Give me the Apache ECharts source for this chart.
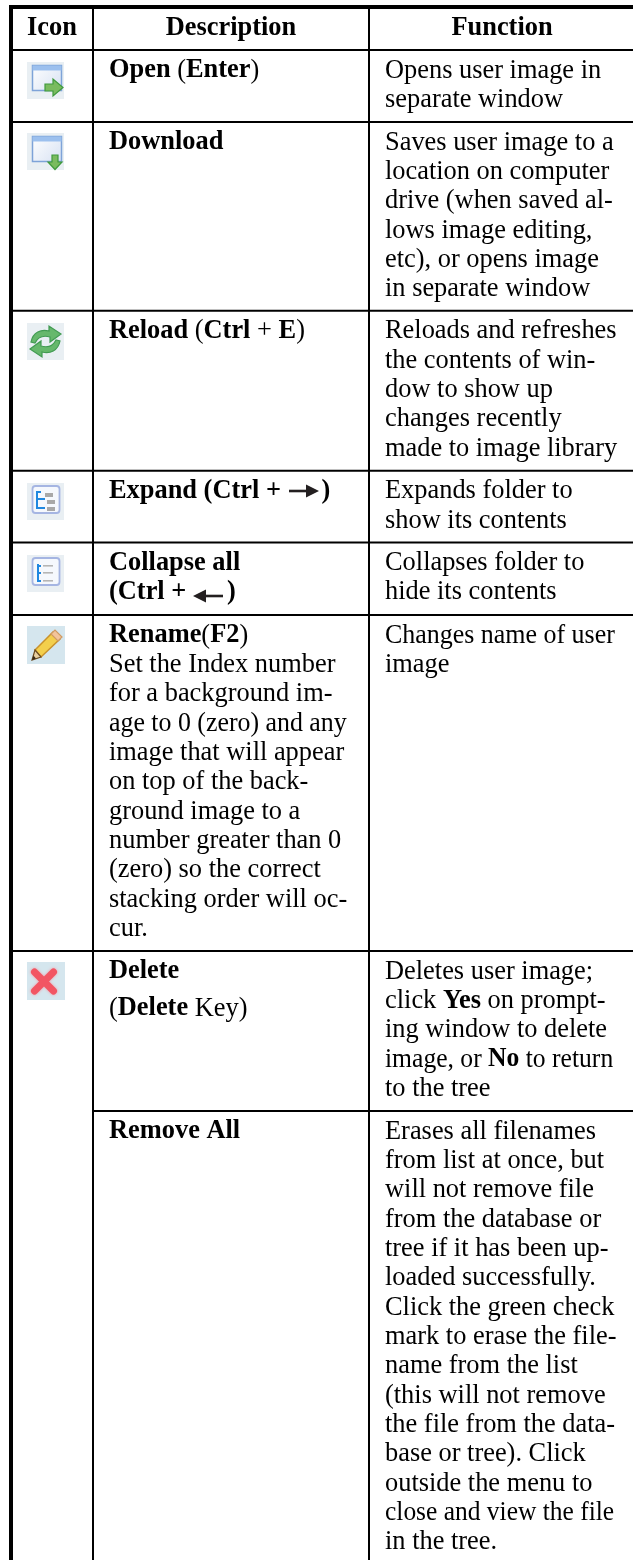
<!DOCTYPE html>
<html>
<head>
<meta charset="utf-8">
<style>
  html, body { margin: 0; padding: 0; background: #fff; }
  #chart { width: 633px; height: 1560px; filter: blur(0.35px); }
</style>
<script src="https://cdn.jsdelivr.net/npm/echarts@6/dist/echarts.min.js"></script>
</head>
<body>
<div id="chart"></div>
<script>
// table content, {b|...} marks the bold runs, {arrow|} leaves room for a drawn arrow
const headers = ['Icon', 'Description', 'Function'];
const iconNames = ['open', 'download', 'reload', 'expand', 'collapse', 'rename', 'delete', ''];
const descriptions = [
  ['{b|Open} ({b|Enter})'],
  ['{b|Download}'],
  ['{b|Reload} ({b|Ctrl} + {b|E})'],
  ['{b|Expand (Ctrl + }{arrow|}{b|)}'],
  ['{b|Collapse all}', '{b|(Ctrl + }{arrow|}{b|)}'],
  ['{b|Rename}({b|F2})', 'Set the Index number', 'for a background im-', 'age to 0 (zero) and any',
    'image that will appear', 'on top of the back-', 'ground image to a', 'number greater than 0',
    '(zero) so the correct', 'stacking order will oc-', 'cur.'],
  ['{b|Delete}', '({b|Delete} Key)'],
  ['{b|Remove All}']
];
const functions = [
  ['Opens user image in', 'separate window'],
  ['Saves user image to a', 'location on computer', 'drive (when saved al-', 'lows image editing,',
    'etc), or opens image', 'in separate window'],
  ['Reloads and refreshes', 'the contents of win-', 'dow to show up', 'changes recently', 'made to image library'],
  ['Expands folder to', 'show its contents'],
  ['Collapses folder to', 'hide its contents'],
  ['Changes name of user', 'image'],
  ['Deletes user image;', 'click {b|Yes} on prompt-', 'ing window to delete', 'image, or {b|No} to return', 'to the tree'],
  ['Erases all filenames', 'from list at once, but', 'will not remove file', 'from the database or',
    'tree if it has been up-', 'loaded successfully.', 'Click the green check', 'mark to erase the file-',
    'name from the list', '(this will not remove', 'the file from the data-', 'base or tree). Click',
    'outside the menu to', 'close and view the file', 'in the tree.']
];

// page geometry
const W = 633, H = 1560;
const rowTops = [50, 122, 310.7, 470.7, 542.5, 615, 951, 1111];
const columnLines = [93, 369];
const textX = [109, 385];
const headerX = [52, 231, 502];
const headerBaseline = 36;
const firstBaseline = 28;
const lineGap = 29.35;
const fontSize = 26.4;
const family = '"Liberation Serif", "Times New Roman", serif';
const iconBoxY = [62, 133, 323, 483, 555, 626, 962];
const arrows = [
  { x: 289, y: 491, dir: 1 },
  { x: 223, y: 596, dir: -1 }
];
// justified lines in the print have squeezed word gaps
const squeezed = {
  'Changes name of user': 0.983,
  'close and view the file': 0.965,
  'image, or {b|No} to return': 0.97,
  'age to 0 (zero) and any': 0.98
};

// one entry per line of text
const textLines = [];
headers.forEach((t, i) => {
  textLines.push({ text: '{b|' + t + '}', x: headerX[i], base: headerBaseline, align: 'center' });
});
rowTops.forEach((top, r) => {
  descriptions[r].forEach((t, i) => {
    // the "(Delete Key)" line sits lower than the normal spacing
    const extra = r === 6 && i === 1 ? 7.7 : 0;
    textLines.push({ text: t, x: textX[0], base: top + firstBaseline + i * lineGap + extra, align: 'left' });
  });
  functions[r].forEach((t, i) => {
    textLines.push({ text: t, x: textX[1], base: top + firstBaseline + i * lineGap, align: 'left' });
  });
});

const rules = [
  // [x1, y1, x2, y2, width]
  [11, 5, 11, H, 4],
  [9, 7, W, 7, 4],
  [columnLines[0], 5, columnLines[0], H, 2],
  [columnLines[1], 5, columnLines[1], H, 2]
];
rowTops.forEach((top, r) => {
  // Delete and Remove All share one icon cell
  rules.push([r === 7 ? columnLines[0] : 13, top, W, top, 2]);
});

function font(weight) {
  return { fontSize: fontSize, fontFamily: family, fontWeight: weight };
}

function renderRule(params, api) {
  const r = rules[api.value(0)];
  const a = api.coord([r[0], r[1]]);
  const b = api.coord([r[2], r[3]]);
  return {
    type: 'line',
    shape: { x1: a[0], y1: a[1], x2: b[0], y2: b[1] },
    style: { stroke: '#000', lineWidth: r[4] }
  };
}

function renderText(params, api) {
  const line = textLines[api.value(0)];
  const p = api.coord([line.x, line.base]);
  return {
    type: 'text',
    x: p[0],
    y: p[1] - 7.4,
    scaleX: squeezed[line.text] || 1,
    style: Object.assign({
      text: line.text,
      align: line.align,
      verticalAlign: 'middle',
      fill: '#000',
      rich: {
        b: Object.assign({ fill: '#000' }, font('bold')),
        arrow: Object.assign({ width: 34 }, font('bold'))
      }
    }, font('normal'))
  };
}

function renderArrow(params, api) {
  const a = arrows[api.value(0)];
  const p = api.coord([a.x, a.y]);
  return {
    type: 'group',
    x: p[0],
    y: p[1],
    scaleX: a.dir,
    children: [
      { type: 'rect', shape: { x: 0, y: -1.3, width: 20, height: 2.6 }, style: { fill: '#231f20' } },
      { type: 'polygon', shape: { points: [[17, -6.5], [30, 0], [17, 6.5]] }, style: { fill: '#231f20' } }
    ]
  };
}

function windowParts() {
  return [
    {
      type: 'rect',
      shape: { x: 5.5, y: 3.5, width: 29, height: 25 },
      style: {
        fill: new echarts.graphic.LinearGradient(0, 0, 1, 1, [
          { offset: 0, color: '#ffffff' },
          { offset: 1, color: '#d6e1f3' }
        ]),
        stroke: '#7ea3d8',
        lineWidth: 1.5
      }
    },
    { type: 'rect', shape: { x: 5.5, y: 3.5, width: 29, height: 5 }, style: { fill: '#9cc0ee' } }
  ];
}

function treePanel() {
  return {
    type: 'rect',
    shape: { x: 5.5, y: 3, width: 27, height: 27, r: 3 },
    style: { fill: '#f5f8fd', stroke: '#a5b5e2', lineWidth: 1.8 }
  };
}

function bar(x, y, w, h, fill) {
  return { type: 'rect', shape: { x: x, y: y, width: w, height: h }, style: { fill: fill } };
}

const iconDrawings = {
  open: () => windowParts().concat([{
    type: 'polygon',
    shape: { points: [[18, 22], [26, 22], [26, 17], [36, 25.5], [26, 34], [26, 29], [18, 29]] },
    style: { fill: '#7abb5f', stroke: '#3f9a3c', lineWidth: 1.2 }
  }]),
  download: () => windowParts().concat([{
    type: 'polygon',
    shape: { points: [[25, 22], [31, 22], [31, 29], [35, 29], [28, 36.5], [21, 29], [25, 29]] },
    style: { fill: '#7abb5f', stroke: '#3f9a3c', lineWidth: 1.2 }
  }]),
  reload: () => [
    {
      type: 'path',
      shape: { pathData: 'M4 19 C6 9 14 6 22 8 L22 3 L34 11 L23 19 L23 14 C16 12 11 14 8 20 Z' },
      style: { fill: '#66b86c', stroke: '#429b52', lineWidth: 1.2 }
    },
    {
      type: 'path',
      shape: { pathData: 'M33 18 C31 28 23 31 15 29 L15 34 L3 26 L14 18 L14 23 C21 25 26 23 29 17 Z' },
      style: { fill: '#66b86c', stroke: '#429b52', lineWidth: 1.2 }
    }
  ],
  expand: () => [
    treePanel(),
    bar(9, 8, 2, 18, '#1f87e0'),
    bar(9, 8, 5, 2, '#1f87e0'),
    bar(9, 15, 9, 2, '#1f87e0'),
    bar(9, 24, 9, 2, '#1f87e0'),
    bar(18, 10, 8, 4, '#a8a8a8'),
    bar(20, 17, 8, 4, '#a8a8a8'),
    bar(20, 24, 8, 4, '#a8a8a8')
  ],
  collapse: () => [
    treePanel(),
    bar(10, 9, 2, 18, '#1f87e0'),
    bar(10, 10, 4, 2, '#1f87e0'),
    bar(10, 17, 4, 2, '#1f87e0'),
    bar(10, 25, 4, 2, '#1f87e0'),
    bar(16, 10, 10, 1.6, '#b5b5b5'),
    bar(16, 17, 10, 1.6, '#b5b5b5'),
    bar(16, 25, 10, 1.6, '#b5b5b5')
  ],
  rename: () => [
    {
      type: 'polygon',
      shape: { points: [[8, 24], [26, 6], [33, 13], [14, 31]] },
      style: { fill: '#f3cf4c', stroke: '#c9922c', lineWidth: 1.5 }
    },
    {
      type: 'polygon',
      shape: { points: [[24, 8], [28, 4], [35, 11], [31, 15]] },
      style: { fill: '#f3c49a', stroke: '#cf9a62', lineWidth: 1.2 }
    },
    {
      type: 'polygon',
      shape: { points: [[8, 24], [14, 31], [5, 34]] },
      style: { fill: '#e8cfa0', stroke: '#6a4a20', lineWidth: 1.2 }
    },
    {
      type: 'polygon',
      shape: { points: [[6.5, 29.5], [9, 32.5], [5, 34]] },
      style: { fill: '#3a2a18' }
    }
  ],
  delete: () => [
    {
      type: 'path',
      shape: { pathData: 'M7.5 10 L26.5 29 M26.5 10 L7.5 29' },
      style: { fill: null, stroke: '#f25563', lineWidth: 7, lineCap: 'round', shadowBlur: 3, shadowColor: '#f59aa3' }
    }
  ]
};

function renderIcon(params, api) {
  const r = api.value(0);
  const p = api.coord([27, iconBoxY[r]]);
  const fill = r < 5 ? '#e9eff3' : '#d5e6ee';
  const side = r < 5 ? 37 : 38;
  const children = [
    { type: 'rect', shape: { x: 0, y: 0, width: side, height: side }, style: { fill: fill } }
  ].concat(iconDrawings[iconNames[r]]());
  return { type: 'group', x: p[0], y: p[1], children: children };
}

function indexData(list) {
  return list.map((_, i) => [i]);
}

const chart = echarts.init(document.getElementById('chart'), null, { renderer: 'canvas' });
chart.setOption({
  animation: false,
  backgroundColor: '#fff',
  grid: { left: 0, right: 0, top: 0, bottom: 0 },
  xAxis: { type: 'value', min: 0, max: W, show: false },
  yAxis: { type: 'value', min: 0, max: H, inverse: true, show: false },
  tooltip: { show: false },
  series: [
    { type: 'custom', silent: true, clip: false, data: indexData(rules), renderItem: renderRule, z: 1 },
    { type: 'custom', silent: true, clip: false, data: indexData(iconBoxY), renderItem: renderIcon, z: 2 },
    { type: 'custom', silent: true, clip: false, data: indexData(textLines), renderItem: renderText, z: 3 },
    { type: 'custom', silent: true, clip: false, data: indexData(arrows), renderItem: renderArrow, z: 3 }
  ]
});
</script>
</body>
</html>
